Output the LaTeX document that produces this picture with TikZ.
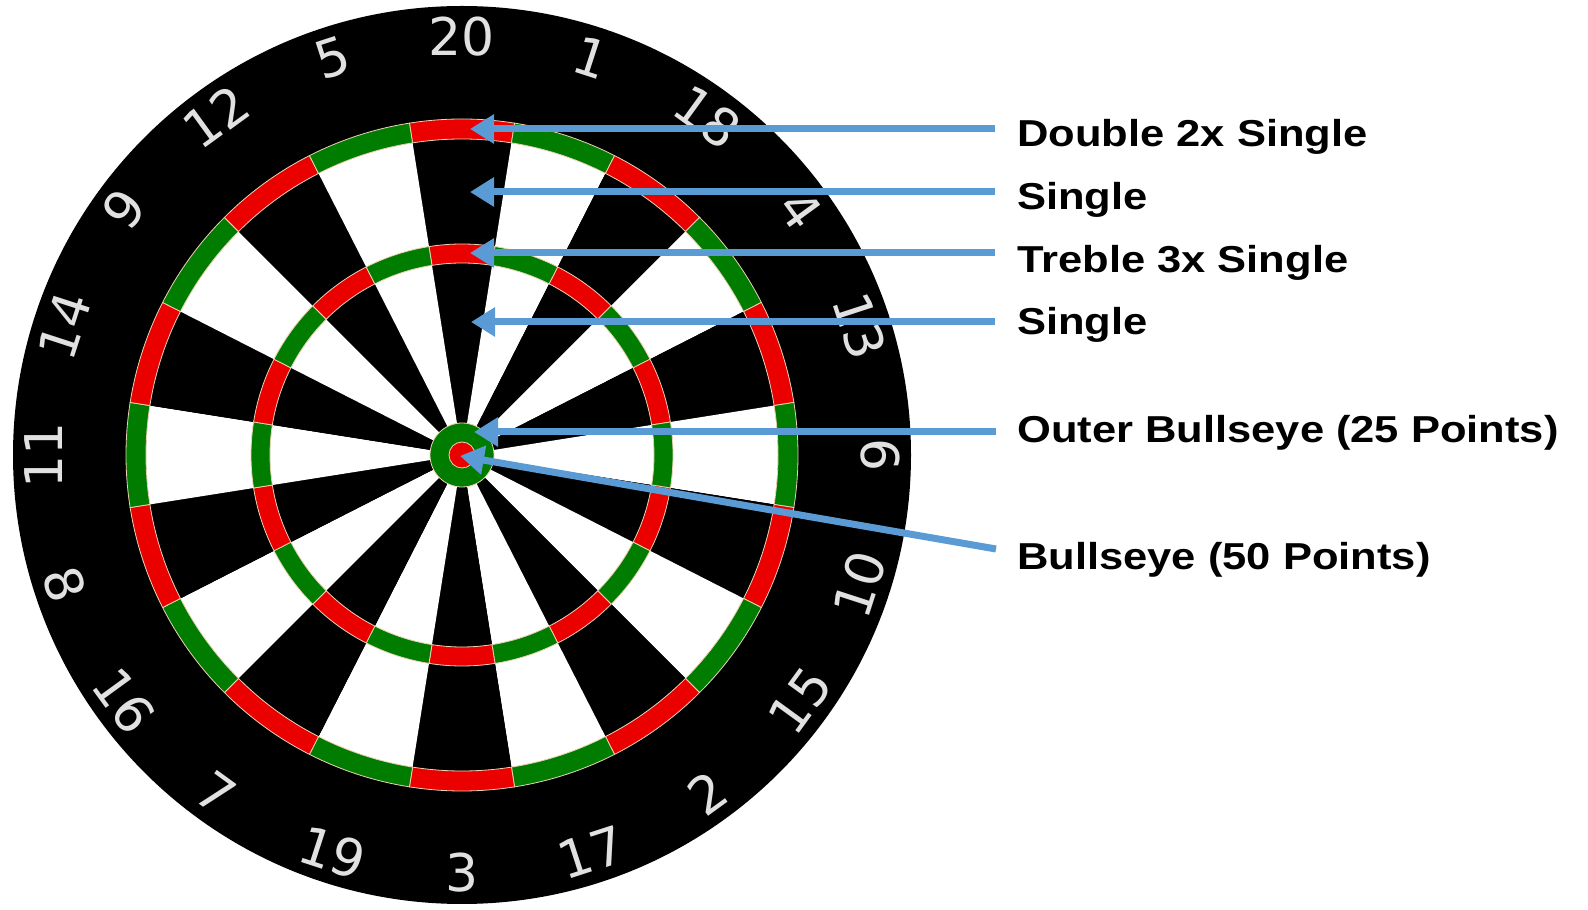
\documentclass[tikz,border=0pt]{standalone}
\usepackage{fontspec}
\newfontfamily\numfont{DejaVu Sans}
\newfontfamily\lblfont[FakeStretch=1.16]{Liberation Sans}
\usetikzlibrary{arrows.meta,calc}
\definecolor{dred}{RGB}{235,0,0}
\definecolor{dgreen}{RGB}{0,125,0}
\definecolor{arrowblue}{RGB}{91,155,213}
\definecolor{numgray}{RGB}{225,225,225}
\definecolor{wire}{RGB}{235,210,180}
\begin{document}
\begin{tikzpicture}[x=1pt,y=1pt,
  arr/.style={draw=arrowblue, line width=7pt, -{Triangle[length=24pt,width=28pt]}},
  lbl/.style={font=\lblfont\bfseries\fontsize{37.5}{40}\selectfont, anchor=base west, inner sep=0pt},
  num/.style={font=\numfont\fontsize{52}{56}\selectfont, text=numgray, inner sep=0pt},
  ringseg/.style={draw=wire, line width=0.8pt}]
\useasboundingbox (0,0) rectangle (1588,910);
\fill[white] (0,0) rectangle (1588,910);
\coordinate (C) at (462,455);
\fill[black] (C) circle[radius=449pt];
\foreach \i in {0,...,19}{
  \pgfmathsetmacro\aone{81-18*\i}
  \pgfmathsetmacro\atwo{99-18*\i}
  \pgfmathtruncatemacro\parity{mod(\i,2)}
  \ifnum\parity=0 \def\segcol{black}\def\ringcol{dred}\else\def\segcol{white}\def\ringcol{dgreen}\fi
  \fill[\segcol] (C) -- ($(C)+(\aone:316pt)$) arc[start angle=\aone, end angle=\atwo, radius=316pt] -- cycle;
  \filldraw[ringseg, fill=\ringcol] ($(C)+(\aone:336pt)$) arc[start angle=\aone, end angle=\atwo, radius=336pt] -- ($(C)+(\atwo:316pt)$) arc[start angle=\atwo, end angle=\aone, radius=316pt] -- cycle;
  \filldraw[ringseg, fill=\ringcol] ($(C)+(\aone:211pt)$) arc[start angle=\aone, end angle=\atwo, radius=211pt] -- ($(C)+(\atwo:192pt)$) arc[start angle=\atwo, end angle=\aone, radius=192pt] -- cycle;
}
\filldraw[ringseg, fill=dgreen] (C) circle[radius=32pt];
\filldraw[ringseg, fill=dred] (C) circle[radius=13pt];
\foreach \n [count=\k from 0] in {20,1,18,4,13,6,10,15,2,17,3,19,7,16,8,11,14,9,12,5}{
  \pgfmathsetmacro\th{90-18*\k}
  \pgfmathsetmacro\thn{(\th<=-180) ? (\th+360) : (\th)}
  \pgfmathsetmacro\rot{(\thn>=0) ? (\thn-90) : (\thn+90)}
  \node[num, rotate=\rot] (n\n) at ($(C)+(\thn:418pt)$) {\n};
}
\node[lbl] (l1) at (1017,763) {Double 2x Single};
\node[lbl] (l2) at (1017,700) {Single};
\node[lbl] (l3) at (1017,637) {Treble 3x Single};
\node[lbl] (l4) at (1017,575) {Single};
\node[lbl] (l5) at (1017,467) {Outer Bullseye (25 Points)};
\node[lbl] (l6) at (1017,340) {Bullseye (50 Points)};
\coordinate (s1) at (995,781); \coordinate (t1) at (470,781);
\coordinate (s2) at (995,718); \coordinate (t2) at (470,718);
\coordinate (s3) at (995,657); \coordinate (t3) at (470,657);
\coordinate (s4) at (995,588); \coordinate (t4) at (471,588);
\coordinate (s5) at (996,478); \coordinate (t5) at (474,478);
\coordinate (s6) at (996,361); \coordinate (t6) at (460,454);
\foreach \j in {1,...,6}{\draw[arr] (s\j) -- (t\j);}
\end{tikzpicture}
\end{document}
